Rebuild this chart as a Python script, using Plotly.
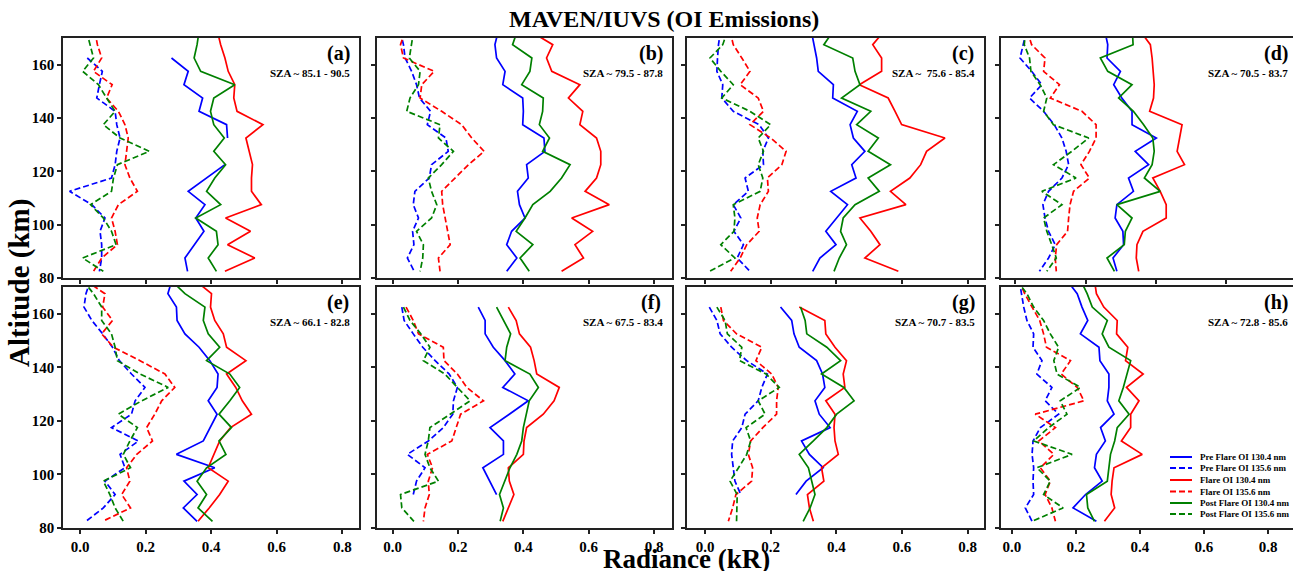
import plotly.graph_objects as go

# ---------------- data (altitude grid, km, top to bottom) ----------------
# first level (172.5 km) lies just above the plotted range; lines are clipped at 170 km
ALT = [172.5, 167.5, 162.5, 157.5, 152.5, 147.5, 142.5, 137.5, 132.5, 127.5,
       122.5, 117.5, 112.5, 107.5, 102.5, 97.5, 92.5, 87.5, 82.5]

# Panel (a)
a_pre130 = [None, None, 0.279, 0.330, 0.317, 0.374, 0.363, 0.447, 0.450, None, 0.442, 0.386, 0.330, 0.381, 0.353, 0.378, 0.350, 0.320, 0.328]
a_pre135 = [None, None, 0.022, 0.068, 0.059, 0.051, 0.107, 0.112, 0.122, 0.112, 0.107, 0.096, -0.032, 0.036, 0.076, 0.061, 0.066, 0.066, 0.059]
a_fl130 = [0.419, 0.429, 0.442, 0.452, 0.472, 0.469, 0.479, 0.558, 0.506, 0.516, 0.526, 0.523, 0.523, 0.553, 0.444, 0.520, 0.450, 0.533, 0.442]
a_fl135 = [0.045, 0.053, 0.066, 0.041, 0.098, 0.081, 0.117, 0.137, 0.147, 0.142, 0.137, 0.152, 0.175, 0.117, 0.096, 0.107, 0.114, 0.066, 0.041]
a_post130 = [0.363, 0.357, 0.348, 0.368, 0.472, 0.408, 0.398, 0.408, 0.440, 0.408, 0.444, 0.411, 0.386, 0.429, 0.353, 0.416, 0.421, 0.391, 0.416]
a_post135 = [0.020, 0.030, 0.041, 0.008, 0.056, 0.081, 0.107, 0.071, 0.122, 0.211, 0.114, 0.102, 0.096, 0.032, 0.071, 0.096, 0.110, 0.008, 0.071]

# Panel (b)
b_pre130 = [0.323, 0.313, 0.318, 0.344, 0.337, 0.398, 0.400, 0.398, 0.463, 0.466, 0.410, 0.415, 0.382, 0.388, 0.405, 0.364, 0.349, 0.380, 0.349]
b_pre135 = [0.023, 0.033, 0.038, 0.058, 0.073, 0.082, 0.116, 0.106, 0.163, 0.170, 0.119, 0.112, 0.068, 0.063, 0.079, 0.061, 0.065, 0.045, 0.066]
b_fl130 = [0.422, 0.490, 0.471, 0.487, 0.573, 0.538, 0.582, 0.573, 0.624, 0.637, 0.637, 0.624, 0.589, 0.663, 0.548, 0.612, 0.558, 0.584, 0.517]
b_fl135 = [0.038, 0.024, 0.033, 0.127, 0.089, 0.084, 0.150, 0.211, 0.242, 0.280, 0.232, 0.191, 0.150, 0.153, 0.160, 0.167, 0.176, 0.140, 0.145]
b_post130 = [0.381, 0.367, 0.426, 0.420, 0.395, 0.461, 0.459, 0.449, 0.480, 0.459, 0.543, 0.517, 0.482, 0.429, 0.405, 0.378, 0.429, 0.390, 0.418]
b_post135 = [0.064, 0.058, 0.051, 0.084, 0.079, 0.053, 0.043, 0.145, 0.140, 0.186, 0.150, 0.109, 0.119, 0.135, 0.119, 0.073, 0.094, 0.092, 0.084]

# Panel (c)
c_pre130 = [0.324, 0.332, 0.340, 0.345, 0.391, 0.389, 0.464, 0.442, 0.452, 0.487, 0.447, 0.460, 0.383, 0.434, 0.401, 0.368, 0.399, 0.350, 0.328]
c_pre135 = [0.047, 0.041, 0.038, 0.036, 0.054, 0.051, 0.086, 0.165, 0.193, 0.176, 0.178, 0.122, 0.132, 0.086, 0.109, 0.088, 0.117, 0.098, 0.137]
c_fl130 = [0.545, 0.511, 0.538, 0.538, 0.470, 0.558, 0.579, 0.599, 0.731, 0.675, 0.657, 0.624, 0.565, 0.612, 0.472, 0.505, 0.533, 0.487, 0.589]
c_fl135 = [0.076, 0.086, 0.112, 0.137, 0.107, 0.162, 0.178, 0.137, 0.200, 0.247, 0.234, 0.190, 0.193, 0.168, 0.159, 0.165, 0.127, 0.107, 0.078]
c_post130 = [0.390, 0.362, 0.450, 0.457, 0.472, 0.416, 0.505, 0.462, 0.528, 0.497, 0.565, 0.497, 0.531, 0.457, 0.421, 0.413, 0.431, 0.409, 0.393]
c_post135 = [0.068, 0.054, 0.015, 0.048, 0.086, 0.051, 0.137, 0.200, 0.162, 0.178, 0.162, 0.176, 0.168, 0.086, 0.091, 0.088, 0.048, 0.091, 0.013]

# Panel (d)
d_pre130 = [0.255, 0.263, 0.261, 0.299, 0.280, 0.303, 0.332, 0.332, 0.401, 0.341, 0.379, 0.322, 0.336, 0.289, 0.284, 0.306, 0.308, 0.278, 0.289]
d_pre135 = [0.032, 0.024, 0.014, 0.047, 0.076, 0.041, 0.081, 0.111, 0.133, 0.145, 0.152, 0.133, 0.095, 0.079, 0.085, 0.095, 0.114, 0.095, 0.069]
d_fl130 = [0.356, 0.384, 0.389, 0.393, 0.395, 0.393, 0.382, 0.474, 0.467, 0.460, 0.481, 0.391, 0.412, 0.429, 0.429, 0.363, 0.346, 0.344, 0.351]
d_fl135 = [0.035, 0.047, 0.085, 0.081, 0.126, 0.100, 0.190, 0.230, 0.230, 0.211, 0.187, 0.211, 0.166, 0.156, 0.152, 0.149, 0.118, 0.114, 0.117]
d_post130 = [0.333, 0.335, 0.242, 0.263, 0.332, 0.294, 0.336, 0.365, 0.391, 0.395, 0.389, 0.367, 0.412, 0.289, 0.332, 0.313, 0.310, 0.261, 0.282]
d_post135 = [0.030, 0.026, 0.041, 0.045, 0.071, 0.090, 0.081, 0.109, 0.209, 0.161, 0.109, 0.173, 0.076, 0.133, 0.081, 0.090, 0.104, 0.117, 0.090]

# Panel (e)
e_pre130 = [0.280, 0.268, 0.294, 0.296, 0.320, 0.363, 0.396, 0.421, 0.418, 0.391, 0.418, 0.396, 0.376, 0.294, 0.411, 0.317, 0.357, 0.315, 0.357]
e_pre135 = [0.032, 0.018, 0.012, 0.036, 0.069, 0.099, 0.120, 0.157, 0.198, 0.168, 0.157, 0.096, 0.178, 0.122, 0.137, 0.076, 0.107, 0.071, 0.018]
e_fl130 = [0.351, 0.401, 0.398, 0.411, 0.437, 0.447, 0.506, 0.447, 0.475, 0.495, 0.523, 0.459, 0.426, 0.408, 0.391, 0.452, 0.426, 0.394, 0.360]
e_fl135 = [0.016, 0.076, 0.069, 0.099, 0.066, 0.102, 0.183, 0.259, 0.289, 0.249, 0.228, 0.203, 0.221, 0.173, 0.142, 0.152, 0.127, 0.154, 0.069]
e_post130 = [0.278, 0.320, 0.381, 0.376, 0.391, 0.426, 0.386, 0.457, 0.487, 0.457, 0.424, 0.462, 0.424, 0.445, 0.386, 0.357, 0.386, 0.360, 0.404]
e_post135 = [0.009, 0.041, 0.066, 0.066, 0.096, 0.107, 0.114, 0.183, 0.269, 0.188, 0.117, 0.175, 0.152, 0.132, 0.154, 0.071, 0.091, 0.107, 0.132]

# Panel (f)
f_pre130 = [None, None, 0.262, 0.283, 0.283, 0.308, 0.344, 0.374, 0.337, 0.415, 0.357, 0.298, 0.339, 0.339, 0.276, 0.296, 0.318, None, None]
f_pre135 = [None, None, 0.028, 0.035, 0.063, 0.092, 0.130, 0.173, 0.198, 0.186, 0.184, 0.155, 0.109, 0.045, 0.099, 0.073, 0.063, None, None]
f_fl130 = [None, None, 0.354, 0.378, 0.388, 0.422, 0.433, 0.441, 0.510, 0.494, 0.461, 0.410, 0.402, 0.400, 0.354, 0.357, 0.371, 0.354, 0.337]
f_fl135 = [None, None, 0.041, 0.063, 0.079, 0.155, 0.157, 0.198, 0.227, 0.278, 0.208, 0.194, 0.181, 0.106, 0.122, 0.109, 0.112, 0.099, 0.094]
f_post130 = [None, None, 0.318, 0.339, 0.361, 0.349, 0.344, 0.420, 0.446, 0.418, 0.410, 0.400, 0.395, 0.380, 0.359, 0.344, 0.327, 0.339, 0.329]
f_post135 = [None, None, 0.033, 0.053, 0.086, 0.114, 0.094, 0.160, 0.198, 0.237, 0.176, 0.114, 0.109, 0.099, 0.114, 0.140, 0.024, 0.028, 0.065]

# Panel (g)
g_pre130 = [None, None, 0.230, 0.264, 0.271, 0.287, 0.340, 0.358, 0.365, 0.335, 0.348, 0.381, 0.294, 0.318, 0.360, 0.308, 0.277, None, None]
g_pre135 = [None, None, 0.013, 0.036, 0.046, 0.081, 0.127, 0.190, 0.173, 0.162, 0.122, 0.112, 0.084, 0.081, 0.086, 0.091, 0.109, None, None]
g_fl130 = [None, None, 0.287, 0.365, 0.368, 0.396, 0.431, 0.421, 0.426, 0.368, 0.396, 0.393, 0.396, 0.406, 0.355, 0.362, 0.312, 0.318, 0.330]
g_fl135 = [None, None, 0.048, 0.056, 0.096, 0.173, 0.155, 0.203, 0.223, 0.218, 0.218, 0.176, 0.139, 0.132, 0.145, 0.142, 0.094, 0.084, 0.071]
g_post130 = [None, None, 0.291, 0.305, 0.310, 0.371, 0.413, 0.355, 0.423, 0.454, 0.401, 0.371, 0.330, 0.287, 0.315, 0.325, 0.335, 0.320, 0.299]
g_post135 = [None, None, 0.036, 0.061, 0.068, 0.112, 0.105, 0.186, 0.226, 0.162, 0.183, 0.125, 0.139, 0.127, 0.102, 0.076, 0.098, 0.096, 0.096]

# Panel (h)
h_pre130 = [0.172, 0.204, 0.219, 0.237, 0.214, 0.272, 0.275, 0.303, 0.303, 0.298, 0.319, 0.277, 0.292, 0.264, 0.258, 0.282, 0.230, 0.191, 0.264]
h_pre135 = [0.023, 0.029, 0.037, 0.047, 0.068, 0.066, 0.094, 0.078, 0.125, 0.104, 0.146, 0.089, 0.066, 0.063, 0.068, 0.066, 0.068, 0.042, 0.063]
h_fl130 = [0.258, 0.264, 0.287, 0.329, 0.327, 0.362, 0.355, 0.410, 0.358, 0.397, 0.371, 0.371, 0.342, 0.407, 0.319, 0.313, 0.310, 0.321, 0.289]
h_fl135 = [0.022, 0.040, 0.063, 0.087, 0.099, 0.108, 0.183, 0.154, 0.204, 0.225, 0.073, 0.136, 0.084, 0.131, 0.089, 0.120, 0.104, 0.125, 0.136]
h_post130 = [0.215, 0.235, 0.251, 0.298, 0.282, 0.303, 0.371, 0.360, 0.348, 0.334, 0.366, 0.329, 0.321, 0.308, 0.303, 0.298, 0.233, 0.237, 0.258]
h_post135 = [0.015, 0.047, 0.068, 0.099, 0.120, 0.146, 0.131, 0.141, 0.214, 0.151, 0.172, 0.115, 0.068, 0.188, 0.078, 0.120, 0.099, 0.160, 0.063]

PANEL_LABELS = ["(a)", "(b)", "(c)", "(d)", "(e)", "(f)", "(g)", "(h)"]
SZA_LABELS = ["SZA ~ 85.1 - 90.5", "SZA ~ 79.5 - 87.8", "SZA ~&nbsp; 75.6 - 85.4", "SZA ~ 70.5 - 83.7",
              "SZA ~ 66.1 - 82.8", "SZA ~ 67.5 - 83.4", "SZA ~ 70.7 - 83.5", "SZA ~ 72.8 - 85.6"]
SERIES_NAMES = ["Pre Flare OI 130.4 nm", "Pre Flare OI 135.6 nm", "Flare OI 130.4 nm",
                "Flare OI 135.6 nm", "Post Flare OI 130.4 nm", "Post Flare OI 135.6 nm"]
X_TICKS = [0.0, 0.2, 0.4, 0.6, 0.8]
X_TICKTEXT = ["0.0", "0.2", "0.4", "0.6", "0.8"]
Y_TICKS = [80, 100, 120, 140, 160]

PANELS = [
    [a_pre130, a_pre135, a_fl130, a_fl135, a_post130, a_post135],
    [b_pre130, b_pre135, b_fl130, b_fl135, b_post130, b_post135],
    [c_pre130, c_pre135, c_fl130, c_fl135, c_post130, c_post135],
    [d_pre130, d_pre135, d_fl130, d_fl135, d_post130, d_post135],
    [e_pre130, e_pre135, e_fl130, e_fl135, e_post130, e_post135],
    [f_pre130, f_pre135, f_fl130, f_fl135, f_post130, f_post135],
    [g_pre130, g_pre135, g_fl130, g_fl135, g_post130, g_post135],
    [h_pre130, h_pre135, h_fl130, h_fl135, h_post130, h_post135],
]

# ---------------- styling / layout ----------------
W, H = 1293, 571
ML, MR, MT, MB = 63, 0, 38, 43
PW = W - ML - MR
PH = H - MT - MB
FONT = "Liberation Serif, Times New Roman, serif"
COLORS = ["#0000FF", "#0000FF", "#FF0000", "#FF0000", "#008000", "#008000"]
DASHES = ["solid", "6px,3px", "solid", "6px,3px", "solid", "6px,3px"]
LW = 1.7
AXCOL = "#222222"

def fx(px):
    return (px - ML) / PW

def fy(py):
    return (H - MB - py) / PH

COL_PX = [(63, 359), (377, 672), (687, 984), (1001, 1293)]
ROW_PX = [(38, 278), (287, 528)]
XRANGES = [[-0.052, 0.851], [-0.048, 0.855], [-0.055, 0.850], [-0.040, 0.789],
           [-0.052, 0.851], [-0.048, 0.855], [-0.055, 0.850], [-0.034, 0.878]]
VIRT_RIGHT = [359, 672, 984, 1297]

fig = go.Figure()
layout = dict(
    width=W, height=H, margin=dict(l=ML, r=MR, t=MT, b=MB),
    paper_bgcolor="white", plot_bgcolor="white", showlegend=False,
    font=dict(family=FONT, color="black"),
)
annotations = []
shapes = []

for k, series in enumerate(PANELS):
    row, col = divmod(k, 4)
    xa = "x" if k == 0 else f"x{k+1}"
    ya = "y" if k == 0 else f"y{k+1}"
    for s, vals in enumerate(series):
        fig.add_trace(go.Scatter(
            x=vals, y=ALT, mode="lines", name=SERIES_NAMES[s],
            line=dict(color=COLORS[s], width=LW, dash=DASHES[s]),
            connectgaps=False, xaxis=xa, yaxis=ya, showlegend=False))
    x0, x1 = COL_PX[col]
    y0, y1 = ROW_PX[row]
    axname = "xaxis" if k == 0 else f"xaxis{k+1}"
    ayname = "yaxis" if k == 0 else f"yaxis{k+1}"
    layout[axname] = dict(
        domain=[fx(x0), fx(x1)], range=XRANGES[k], anchor=ya,
        showline=True, mirror=True, linecolor=AXCOL, linewidth=1.5,
        ticks="outside", ticklen=4, tickwidth=1.5, tickcolor=AXCOL,
        tickvals=X_TICKS, ticktext=X_TICKTEXT, showticklabels=(row == 1),
        tickfont=dict(family=FONT, size=15, weight="bold", color="black"),
        showgrid=False, zeroline=False, fixedrange=True, automargin=False)
    layout[ayname] = dict(
        domain=[fy(y1), fy(y0)], range=[80, 170], anchor=xa,
        showline=True, mirror=True, linecolor=AXCOL, linewidth=1.5,
        ticks="outside", ticklen=4, tickwidth=1.5, tickcolor=AXCOL,
        tickvals=Y_TICKS, showticklabels=(col == 0),
        tickfont=dict(family=FONT, size=15, weight="bold", color="black"),
        showgrid=False, zeroline=False, fixedrange=True, automargin=False)
    vr = VIRT_RIGHT[col]
    annotations.append(dict(
        text=f"<b>{PANEL_LABELS[k]}</b>", xref="paper", yref="paper",
        x=fx(vr - 21), y=fy(y0 + 15), xanchor="center", yanchor="middle",
        showarrow=False, font=dict(family=FONT, size=20, color="black")))
    annotations.append(dict(
        text=f"<b>{SZA_LABELS[k]}</b>", xref="paper", yref="paper",
        x=fx(vr - 7), y=fy(y0 + 35), xanchor="right", yanchor="middle",
        showarrow=False, font=dict(family=FONT, size=11, color="black")))

# titles
annotations.append(dict(text="<b>MAVEN/IUVS (OI Emissions)</b>", xref="paper", yref="paper",
                        x=fx(664), y=fy(19), xanchor="center", yanchor="middle", showarrow=False,
                        font=dict(family=FONT, size=24, color="black")))
annotations.append(dict(text="<b>Altitude (km)</b>", xref="paper", yref="paper",
                        x=fx(19), y=fy(283), xanchor="center", yanchor="middle", showarrow=False,
                        textangle=-90, font=dict(family=FONT, size=29, color="black")))
annotations.append(dict(text="<b>Radiance (kR)</b>", xref="paper", yref="paper",
                        x=fx(686), y=fy(559), xanchor="center", yanchor="middle", showarrow=False,
                        font=dict(family=FONT, size=27, color="black")))

# legend (drawn in panel h)
LEG_Y = [457, 468, 480, 491.5, 503, 514]
for s, name in enumerate(SERIES_NAMES):
    py = LEG_Y[s]
    shapes.append(dict(type="line", xref="paper", yref="paper",
                       x0=fx(1170), x1=fx(1192), y0=fy(py), y1=fy(py),
                       line=dict(color=COLORS[s], width=2, dash=DASHES[s])))
    annotations.append(dict(text=f"<b>{name}</b>", xref="paper", yref="paper",
                            x=fx(1198), y=fy(py), xanchor="left", yanchor="middle",
                            showarrow=False, font=dict(family=FONT, size=9, color="black")))

layout["annotations"] = annotations
layout["shapes"] = shapes
fig.update_layout(**layout)
fig.write_html("out.html", config={"displayModeBar": False},
               post_script="document.body.style.margin='0px';document.body.style.overflow='hidden';")
